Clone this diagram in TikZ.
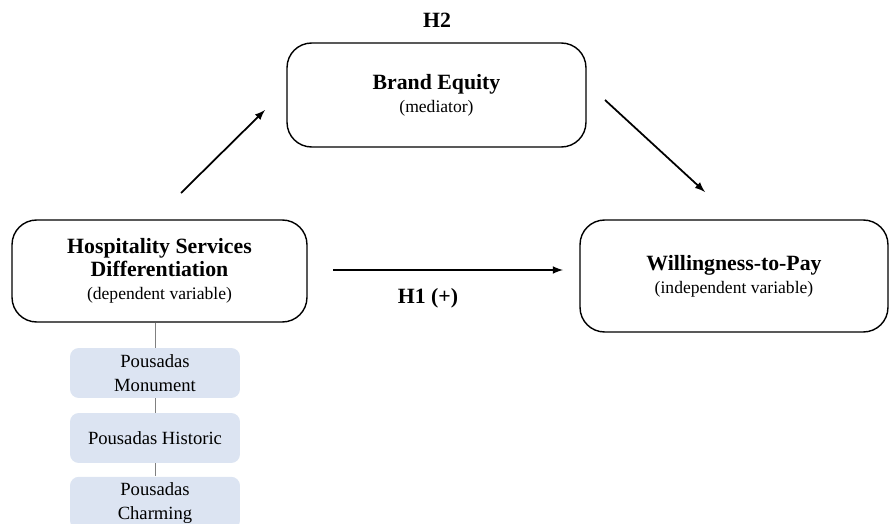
\documentclass[tikz,border=0pt]{standalone}
\usepackage{fontspec}
\setmainfont{Liberation Serif}
\definecolor{subfill}{HTML}{DCE4F2}
\tikzset{
  varbox/.style={draw, thick, rounded corners=14pt, align=center, font=\fontsize{12.4}{13}\selectfont},
  subbox/.style={fill=subfill, rounded corners=5pt, align=center, minimum width=3.4cm, minimum height=1cm, font=\fontsize{10.6}{13.5}\selectfont},
  hyp/.style={font=\bfseries\fontsize{12.4}{13}\selectfont},
  path/.style={line width=1pt, -latex}
}
\begin{document}
\begin{tikzpicture}[x=0.02cm, y=-0.02cm]
\useasboundingbox (0,0) rectangle (890,524);
% variables
\node[varbox, minimum width=5.9cm, minimum height=2.04cm] (hsd) at (159.5,271) {\textbf{Hospitality Services}\\\textbf{Differentiation}\\{\fontsize{10}{12}\selectfont(dependent variable)}};
\node[varbox, minimum width=5.98cm, minimum height=2.08cm] (be) at (436.5,95) {\textbf{Brand Equity}\\{\fontsize{10}{12}\selectfont(mediator)}};
\node[varbox, minimum width=6.16cm, minimum height=2.24cm] (wtp) at (734,276) {\textbf{Willingness-to-Pay}\\{\fontsize{10}{12}\selectfont(independent variable)}};
% hotel types
\node[subbox] (mon) at (155,373) {Pousadas\\Monument};
\node[subbox] (his) at (155,438) {Pousadas Historic};
\node[subbox] (cha) at (155,503) {Pousadas\\Charming};
\draw[gray] (hsd.south -| mon.north) -- (mon.north);
\draw[gray] (mon) -- (his);
\draw[gray] (his) -- (cha);
% hypotheses
\coordinate (a1) at (181,193);
\coordinate (a2) at (265,110);
\coordinate (b1) at (605,100);
\coordinate (b2) at (705,192);
\coordinate (c1) at (333,270);
\coordinate (c2) at (563,270);
\draw[path] (a1) -- (a2);
\draw[path] (b1) -- (b2);
\draw[path] (c1) -- (c2);
\node[hyp] (h2) at (437,20) {H2};
\node[hyp] (h1) at (428,298) {H1 (+)};
\end{tikzpicture}
\end{document}
